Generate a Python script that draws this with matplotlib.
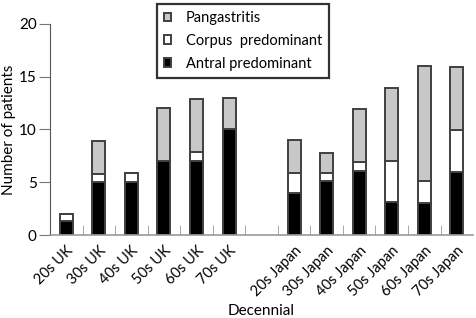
import numpy as np
import matplotlib
matplotlib.use("Agg")
import matplotlib.pyplot as plt

# Values; the empty group is the gap between UK and Japan
groups = ["20s UK", "30s UK", "40s UK", "50s UK", "60s UK", "70s UK", "",
          "20s Japan", "30s Japan", "40s Japan", "50s Japan", "60s Japan", "70s Japan"]
antral = [1.3, 5, 5, 7, 7, 10, 0, 4, 5.1, 6.1, 3.1, 3, 6]
corpus = [0.7, 0.8, 0.9, 0, 0.9, 0, 0, 1.9, 0.8, 0.8, 3.9, 2.1, 3.9]
pangastritis = [0, 3.1, 0, 5, 5, 3, 0, 3.1, 1.9, 5, 6.9, 10.9, 6]

plt.rcParams['font.family'] = ['Lato', 'DejaVu Sans']

fig = plt.figure(figsize=(4.76, 3.18), dpi=100)
ax = fig.add_axes([0.105, 0.261, 0.889, 0.664])

x = np.arange(len(groups))
keep = np.array([g != "" for g in groups])
a = np.array(antral)
c = np.array(corpus)
p = np.array(pangastritis)
w = 0.4
edge = "#404040"

b1 = ax.bar(x[keep], a[keep], w, color="black", edgecolor=edge, linewidth=1.4,
            label="Antral predominant")
b2 = ax.bar(x[keep], c[keep], w, bottom=a[keep], color="white", edgecolor=edge,
            linewidth=1.4, label="Corpus  predominant")
b3 = ax.bar(x[keep], p[keep], w, bottom=(a + c)[keep], color="#c8c8c8",
            edgecolor=edge, linewidth=1.4, label="Pangastritis")

ax.set_xlim(-0.5, 12.5)
ax.set_ylim(0, 20)
ax.set_yticks([0, 5, 10, 15, 20])

ax.set_xticks(x[keep])
ax.set_xticklabels([g for g in groups if g], rotation=45, ha="right",
                   rotation_mode="anchor", fontsize=10.5)
ax.tick_params(axis="x", length=0, pad=6)
ax.set_xticks(np.arange(0.5, 12.5, 1), minor=True)
ax.tick_params(axis="x", which="minor", direction="in", length=7, color="#999999")
ax.tick_params(axis="y", length=8, color="#777777", labelsize=11, pad=1.5)

for s in ["top", "right"]:
    ax.spines[s].set_visible(False)
ax.spines["bottom"].set_color("#999999")
ax.spines["bottom"].set_linewidth(1.2)
ax.spines["left"].set_color("#555555")

ax.set_ylabel("Number of patients", fontsize=11, labelpad=2)
ax.set_xlabel("Decennial", fontsize=11, labelpad=4)

leg = ax.legend(handles=[b3, b2, b1], loc="upper left", bbox_to_anchor=(0.252, 1.095),
                fontsize=10.5, frameon=True, fancybox=False, shadow=False,
                handlelength=0.5, handleheight=0.5, handletextpad=1.0,
                labelspacing=0.6, borderpad=0.5, borderaxespad=0)
frame = leg.get_frame()
frame.set_edgecolor("#333333")
frame.set_facecolor("white")
frame.set_alpha(1)
frame.set_linewidth(1.6)

fig.savefig("out.png", dpi=100)
